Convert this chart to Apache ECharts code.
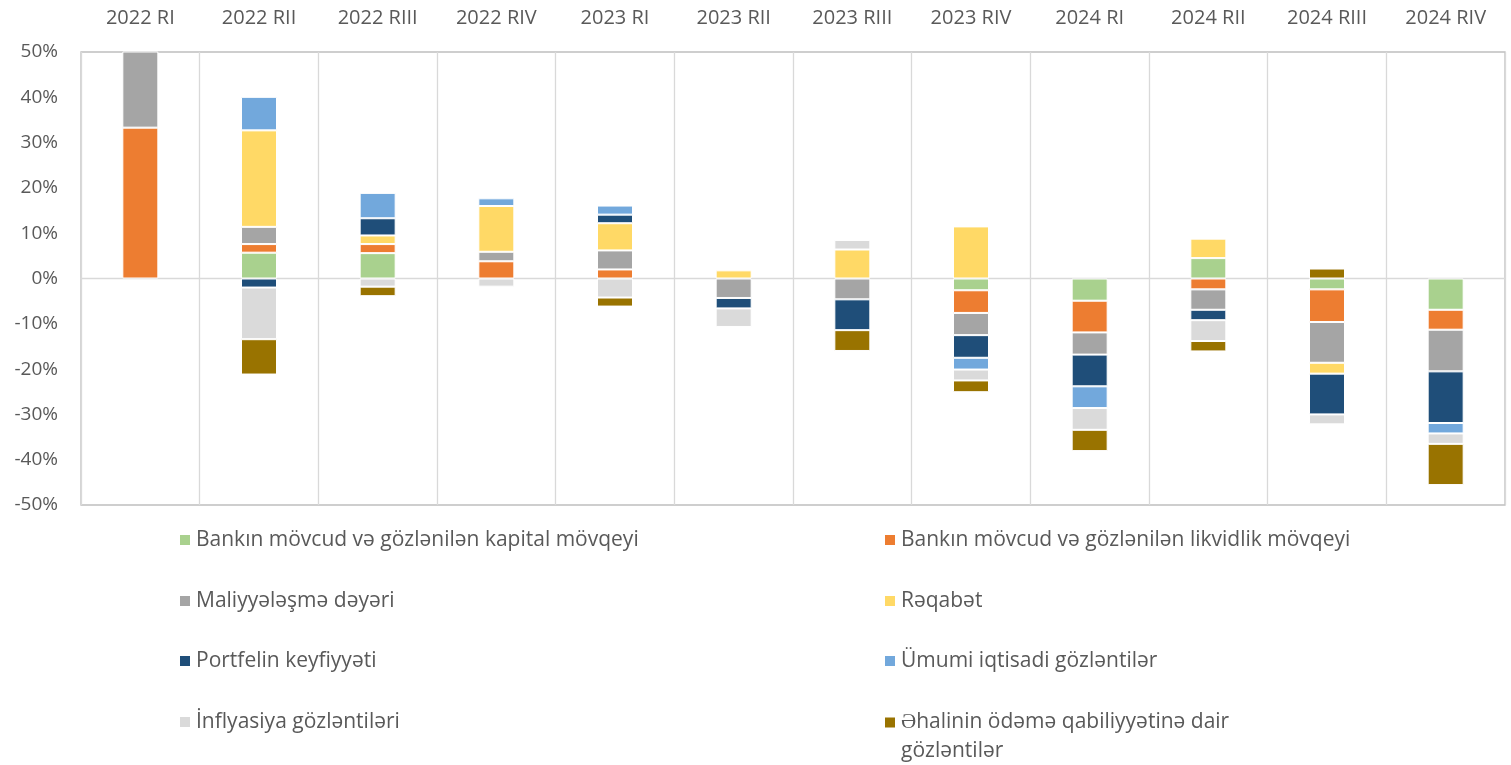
<!DOCTYPE html>
<html>
<head>
<meta charset="utf-8">
<script src="https://cdn.jsdelivr.net/npm/echarts@6/dist/echarts.min.js"></script>
<style>
    html, body { margin: 0; padding: 0; background: #fff; }
    #chart { width: 1511px; height: 765px; }
</style>
</head>
<body>
<div id="chart"></div>
<script>
    // rüblər
    var categories = ['2022 RI', '2022 RII', '2022 RIII', '2022 RIV', '2023 RI', '2023 RII',
        '2023 RIII', '2023 RIV', '2024 RI', '2024 RII', '2024 RIII', '2024 RIV'];

    var seriesNames = [
        'Bankın mövcud və gözlənilən kapital mövqeyi',
        'Bankın mövcud və gözlənilən likvidlik mövqeyi',
        'Maliyyələşmə dəyəri',
        'Rəqabət',
        'Portfelin keyfiyyəti',
        'Ümumi iqtisadi gözləntilər',
        'İnflyasiya gözləntiləri',
        'Əhalinin ödəmə qabiliyyətinə dair gözləntilər'
    ];

    // faizlə
    var kapital     = [0, 5.7, 5.6, 0, 0, 0, 0, -2.6, -4.9, 4.5, -2.4, -6.9];
    var likvidlik   = [33.3, 1.9, 2.0, 3.8, 2.0, 0, 0, -5.0, -7.0, -2.4, -7.2, -4.4];
    var maliyye     = [18, 3.8, 0, 2.1, 4.2, -4.3, -4.6, -4.9, -4.9, -4.5, -9.0, -9.2];
    var reqabet     = [0, 21.3, 1.9, 10.1, 6.0, 1.8, 6.4, 11.5, 0, 4.3, -2.4, 0];
    var portfel     = [0, -2.0, 3.8, 0, 1.9, -2.3, -6.8, -5.0, -7.0, -2.3, -9.0, -11.4];
    var iqtisadi    = [0, 7.4, 5.6, 1.7, 2.0, 0, 0, -2.6, -4.8, 0, 0, -2.3];
    var inflyasiya  = [0, -11.4, -1.8, -1.8, -4.2, -4.1, 2.1, -2.4, -4.8, -4.6, -2.2, -2.3];
    var odeme       = [0, -7.8, -2.1, 0, -2.0, 0, -4.6, -2.6, -4.7, -2.3, 2.2, -9.1];

    var yTicks = [-50, -40, -30, -20, -10, 0, 10, 20, 30, 40, 50];

    var allData = [kapital, likvidlik, maliyye, reqabet, portfel, iqtisadi, inflyasiya, odeme];
    var colors = ['#a9d18e', '#ed7d31', '#a5a5a5', '#ffd966', '#1f4e79', '#72a8dc', '#dadada', '#997300'];

    var font = '"Open Sans"';
    var textColor = '#595959';

    var series = allData.map(function (d, i) {
        return {
            name: seriesNames[i],
            type: 'bar',
            stack: 'total',
            barWidth: 36,
            clip: true,
            itemStyle: { color: colors[i], borderColor: '#fff', borderWidth: 1 },
            data: d.map(function (v) { return v === 0 ? null : v; })
        };
    });

    // legend: 2 sütun, 4 sətir
    var rowY = [540, 601, 661, 722];
    var legends = seriesNames.map(function (name, i) {
        var col = i % 2, row = Math.floor(i / 2);
        var lg = {
            data: [name],
            left: col === 0 ? 178 : 883,
            top: rowY[row] - 13,
            padding: 0,
            itemWidth: 12,
            itemHeight: 12,
            icon: 'rect',
            selectedMode: false,
            textStyle: { fontFamily: font, fontSize: 21, color: textColor, lineHeight: 26 }
        };
        if (i === 7) {
            // boş ilk sətir: ikon birinci mətn sətri ilə bir xəttdə qalsın
            lg.formatter = function () { return '\nƏhalinin ödəmə qabiliyyətinə dair\ngözləntilər'; };
            lg.top = rowY[row] - 43;
            lg.textStyle = { fontFamily: font, fontSize: 21, color: textColor, lineHeight: 29 };
        }
        return lg;
    });

    var myChart = echarts.init(document.getElementById('chart'));
    myChart.setOption({
        animation: false,
        color: colors,
        grid: {
            left: 81, right: 6, top: 52, bottom: 260,
            show: true, borderColor: '#bfbfbf', borderWidth: 1.3
        },
        legend: legends,
        xAxis: [
            {
                type: 'category',
                position: 'top',
                data: categories,
                axisLine: { show: false, onZero: false },
                axisTick: { show: false },
                axisLabel: { interval: 0, margin: 24, fontFamily: font, fontSize: 20, color: textColor },
                splitLine: { show: true, interval: 0, lineStyle: { color: '#d9d9d9', width: 1.3 } }
            },
            {
                type: 'category',
                position: 'bottom',
                data: categories,
                axisLine: { show: true, onZero: true, lineStyle: { color: '#d9d9d9', width: 1.3 } },
                axisTick: { show: false },
                axisLabel: { show: false }
            }
        ],
        yAxis: {
            type: 'value',
            min: yTicks[0],
            max: yTicks[yTicks.length - 1],
            interval: 10,
            axisLine: { show: false },
            axisTick: { show: false },
            splitLine: { show: false },
            axisLabel: {
                margin: 23,
                fontFamily: font, fontSize: 19, color: textColor,
                formatter: function (v) { return v + '%'; }
            }
        },
        series: series
    });
</script>
</body>
</html>
